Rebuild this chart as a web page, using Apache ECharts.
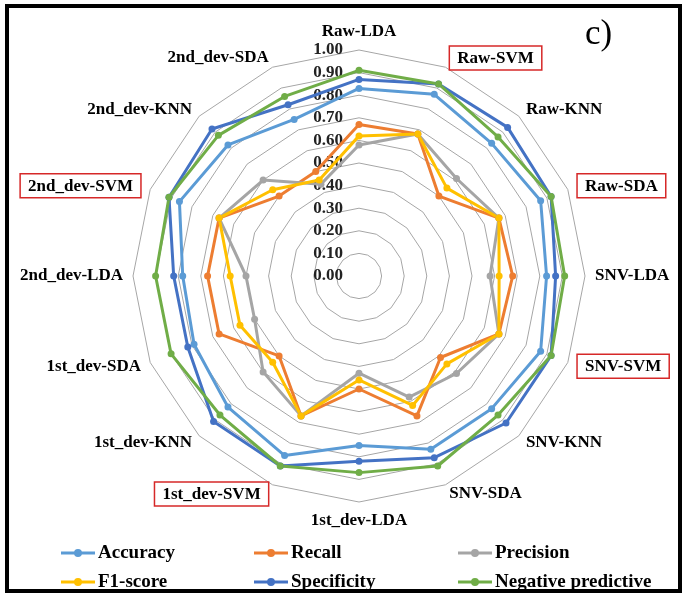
<!DOCTYPE html>
<html>
<head>
<meta charset="utf-8">
<script src="https://cdn.jsdelivr.net/npm/echarts@6/dist/echarts.min.js"></script>
<style>
  html, body { margin: 0; padding: 0; background: #fff; }
  #wrap { position: relative; width: 686px; height: 600px; }
  #chart { position: absolute; left: 0; top: 0; width: 686px; height: 600px; }
  #frame { position: absolute; left: 5px; top: 4px; width: 677px; height: 589px; box-sizing: border-box; border: 4px solid #000; pointer-events: none; }
</style>
</head>
<body>
<div id="wrap">
  <div id="chart"></div>
  <div id="frame"></div>
</div>
<script>
// ---- data (clockwise from top, as in the reference) ----
const indicators = ['Raw-LDA', 'Raw-SVM', 'Raw-KNN', 'Raw-SDA',
                    'SNV-LDA', 'SNV-SVM', 'SNV-KNN', 'SNV-SDA',
                    '1st_dev-LDA', '1st_dev-SVM', '1st_dev-KNN', '1st_dev-SDA',
                    '2nd_dev-LDA', '2nd_dev-SVM', '2nd_dev-KNN', '2nd_dev-SDA'];
const boxedIndicators = ['Raw-SVM', 'Raw-SDA', 'SNV-SVM', '1st_dev-SVM', '2nd_dev-SVM'];
const seriesNames = ['Accuracy', 'Recall', 'Precision', 'F1-score', 'Specificity', 'Negative predictive'];
const accuracy    = [0.83, 0.87, 0.83, 0.87, 0.83, 0.87, 0.83, 0.83, 0.75, 0.86, 0.82, 0.79, 0.78, 0.86, 0.82, 0.75];
const recall      = [0.67, 0.68, 0.50, 0.67, 0.68, 0.67, 0.51, 0.67, 0.50, 0.67, 0.50, 0.67, 0.67, 0.67, 0.50, 0.50];
const precision   = [0.58, 0.68, 0.61, 0.67, 0.58, 0.67, 0.61, 0.58, 0.43, 0.67, 0.60, 0.50, 0.50, 0.67, 0.60, 0.44];
const f1score     = [0.62, 0.68, 0.55, 0.67, 0.62, 0.67, 0.55, 0.62, 0.46, 0.67, 0.54, 0.57, 0.57, 0.67, 0.54, 0.46];
const specificity = [0.87, 0.92, 0.93, 0.92, 0.87, 0.92, 0.92, 0.87, 0.82, 0.91, 0.91, 0.82, 0.82, 0.91, 0.92, 0.82];
const negPredictive = [0.91, 0.92, 0.87, 0.92, 0.91, 0.92, 0.87, 0.91, 0.87, 0.91, 0.87, 0.90, 0.90, 0.91, 0.88, 0.86];
const axisMin = 0, axisMax = 1, axisSplits = 10;
const panelLabel = 'c)';

// ---- build ----
const seriesValues = [accuracy, recall, precision, f1score, specificity, negPredictive];
const colors = ['#5B9BD5', '#ED7D31', '#A5A5A5', '#FFC000', '#4472C4', '#70AD47'];
// ECharts places indicators counter-clockwise; reorder to get clockwise
const order = [0].concat(indicators.map((_, i) => i).slice(1).reverse());
const reorder = arr => order.map(i => arr[i]);

const font = 'Liberation Serif';
const indicatorOpts = order.map((i, k) => {
  const o = { name: indicators[i], min: axisMin, max: axisMax };
  if (k === 0) o.axisLabel = { show: true };
  return o;
});

const legendIcon = 'path://M0,2.6 L34,2.6 L34,5.4 L0,5.4 Z M13,4 A4,4 0 1,1 21,4 A4,4 0 1,1 13,4 Z';
function makeLegend(names, left) {
  return {
    orient: 'vertical', left: left, top: 543, padding: 0,
    data: names, icon: legendIcon, itemWidth: 34, itemHeight: 8, itemGap: 9,
    textStyle: { fontFamily: font, fontWeight: 'bold', fontSize: 19, color: '#000', lineHeight: 20, padding: [0, 0, 0, -2] }
  };
}

const chart = echarts.init(document.getElementById('chart'), null, { renderer: 'canvas' });
chart.setOption({
  animation: false,
  color: colors,
  title: { text: panelLabel, left: 585, top: 17, padding: 0, textStyle: { fontFamily: font, fontWeight: 'normal', fontSize: 35, color: '#000' } },
  legend: [
    makeLegend([seriesNames[0], seriesNames[3]], 61),
    makeLegend([seriesNames[1], seriesNames[4]], 254),
    makeLegend([seriesNames[2], seriesNames[5]], 458)
  ],
  radar: {
    center: [359, 276],
    radius: 226,
    startAngle: 90,
    shape: 'polygon',
    splitNumber: axisSplits,
    indicator: indicatorOpts,
    nameGap: 10,
    axisName: {
      fontFamily: font, fontWeight: 'bold', fontSize: 17, color: '#000',
      formatter: function (name) {
        return boxedIndicators.indexOf(name) >= 0 ? '{box|' + name + '}' : '{plain|' + name + '}';
      },
      rich: {
        box: { fontFamily: font, fontWeight: 'bold', fontSize: 17, color: '#000', borderColor: '#D62828', borderWidth: 1.5, padding: [4, 8, 3, 8] },
        plain: { fontFamily: font, fontWeight: 'bold', fontSize: 17, color: '#000' }
      }
    },
    axisLine: { show: false },
    axisTick: { show: false },
    axisLabel: {
      show: false, margin: 16, fontFamily: font, fontWeight: 'bold', fontSize: 17, color: '#222',
      formatter: v => v.toFixed(2)
    },
    splitLine: { lineStyle: { color: '#A6A6A6', width: 1 } },
    splitArea: { show: false }
  },
  series: seriesNames.map((n, s) => ({
    type: 'radar',
    name: n,
    symbol: 'circle',
    symbolSize: 7,
    lineStyle: { width: 3, color: colors[s] },
    itemStyle: { color: colors[s] },
    data: [{ name: n, value: reorder(seriesValues[s]) }]
  }))
});
</script>
</body>
</html>
